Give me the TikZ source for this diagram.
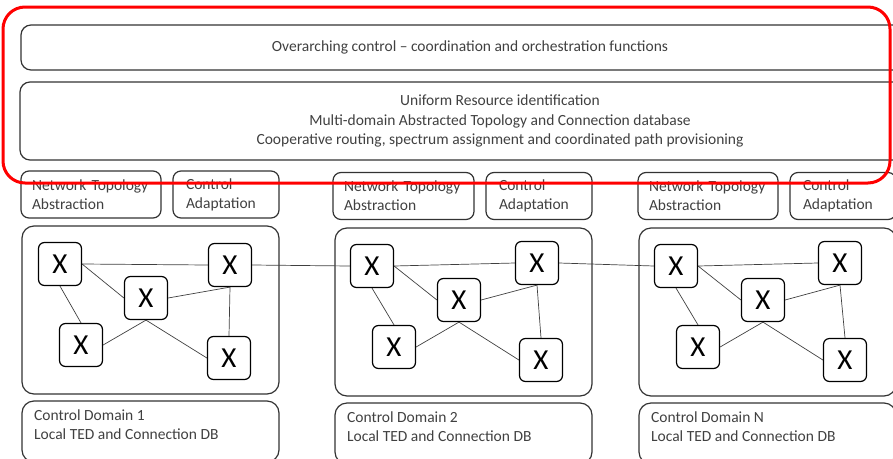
\documentclass[tikz,border=0pt]{standalone}
\usepackage{fontspec}
\setmainfont{Carlito}
\usepackage{tikz}

\tikzset{
	topbox/.style={draw=black!80,line width=1.2pt,rounded corners=10pt,align=center,text=black!75,
		font=\fontsize{15.5}{19.5}\selectfont},
	smallbox/.style={draw=black!80,line width=1.2pt,rounded corners=8pt,align=left,text=black!75,
		inner xsep=11pt,minimum height=47pt,font=\fontsize{15.5}{19}\selectfont},
	dombox/.style={draw=black!80,line width=1.2pt,rounded corners=12pt,minimum width=257pt},
	dbtext/.style={align=left,anchor=west,inner sep=0pt,text=black!75,font=\fontsize{15.5}{19}\selectfont},
	switch/.style={draw=black,line width=1.2pt,rounded corners=6pt,minimum size=43pt,inner sep=0pt,
		font=\fontsize{29}{29}\selectfont},
	link/.style={draw=black!75,line width=0.7pt},
	ctlframe/.style={draw=red,line width=3pt,rounded corners=22pt}
}

\begin{document}
\begin{tikzpicture}[x=1pt,y=-1pt]
	\useasboundingbox (0,0) rectangle (893,458);
	\clip (0,0) rectangle (893,458);

	% overarching layers
	\node[topbox,minimum width=898pt,minimum height=45pt] (ovr) at (470,47.5)
		{Overarching control -- coordination and orchestration functions};
	\node[topbox,minimum width=960pt,minimum height=78pt] (uri) at (500,121)
		{Uniform Resource identification\\Multi-domain Abstracted Topology and Connection database\\Cooperative routing, spectrum assignment and coordinated path provisioning};

	% domain 1
	\node[smallbox,text width=118pt] (nta1) at (91,194.5)    {Network Topology\\Abstraction};
	\node[smallbox,text width=80pt,inner xsep=13pt] (ca1) at (226,194.5) {Control\\Adaptation};
	\node[dombox,minimum height=168pt] (dom1) at (150.5,310) {};
	\node[dombox,minimum height=61pt] (db1) at (150.5,431.5) {};
	\node[dbtext] (db1txt) at (34,424.5) {Control Domain 1\\Local TED and Connection DB};

	\node[switch] (sw1a) at (60,264)  {X};
	\node[switch] (sw1b) at (230,265) {X};
	\node[switch] (sw1c) at (146,298) {X};
	\node[switch] (sw1d) at (81,345)  {X};
	\node[switch] (sw1e) at (229,358) {X};

	\path[link] (sw1a.east) -- (sw1b.west);
	\path[link] (sw1a.east) -- (sw1c.west);
	\path[link] (sw1c.east) -- (sw1b.south);
	\path[link] (sw1b.south) -- (sw1e.north);
	\path[link] (sw1a.south) -- (sw1d.north);
	\path[link] (sw1d.east) -- (sw1c.south);
	\path[link] (sw1c.south) -- (sw1e.west);

	% domain 2
	\node[smallbox,text width=119pt] (nta2) at (403.5,196)   {Network Topology\\Abstraction};
	\node[smallbox,text width=80pt,inner xsep=13pt] (ca2) at (539,196) {Control\\Adaptation};
	\node[dombox,minimum height=168pt] (dom2) at (463.5,312) {};
	\node[dombox,minimum height=61pt] (db2) at (463.5,433.5) {};
	\node[dbtext] (db2txt) at (347,426.5) {Control Domain 2\\Local TED and Connection DB};

	\node[switch] (sw2a) at (372,266) {X};
	\node[switch] (sw2b) at (537,263) {X};
	\node[switch] (sw2c) at (459,300) {X};
	\node[switch] (sw2d) at (394,347) {X};
	\node[switch] (sw2e) at (541,360) {X};

	\path[link] (sw2a.east) -- (sw2b.west);
	\path[link] (sw2a.east) -- (sw2c.west);
	\path[link] (sw2c.east) -- (sw2b.south);
	\path[link] (sw2b.south) -- (sw2e.north);
	\path[link] (sw2a.south) -- (sw2d.north);
	\path[link] (sw2d.east) -- (sw2c.south);
	\path[link] (sw2c.south) -- (sw2e.west);

	% domain N
	\node[smallbox,text width=118pt] (nta3) at (708,196)     {Network Topology\\Abstraction};
	\node[smallbox,text width=80pt,inner xsep=13pt] (ca3) at (843,196) {Control\\Adaptation};
	\node[dombox,minimum height=168pt] (dom3) at (767.5,312) {};
	\node[dombox,minimum height=61pt] (db3) at (767.5,433.5) {};
	\node[dbtext] (db3txt) at (651,426.5) {Control Domain N\\Local TED and Connection DB};

	\node[switch] (sw3a) at (676,266) {X};
	\node[switch] (sw3b) at (840,263) {X};
	\node[switch] (sw3c) at (763,300) {X};
	\node[switch] (sw3d) at (698,347) {X};
	\node[switch] (sw3e) at (845,360) {X};

	\path[link] (sw3a.east) -- (sw3b.west);
	\path[link] (sw3a.east) -- (sw3c.west);
	\path[link] (sw3c.east) -- (sw3b.south);
	\path[link] (sw3b.south) -- (sw3e.north);
	\path[link] (sw3a.south) -- (sw3d.north);
	\path[link] (sw3d.east) -- (sw3c.south);
	\path[link] (sw3c.south) -- (sw3e.west);

	% inter-domain links
	\path[link] (sw1b.east) -- (sw2a.west);
	\path[link] (sw2b.east) -- (sw3a.west);

	% control scope
	\draw[ctlframe] (3,7) rectangle (890,183);
\end{tikzpicture}
\end{document}
